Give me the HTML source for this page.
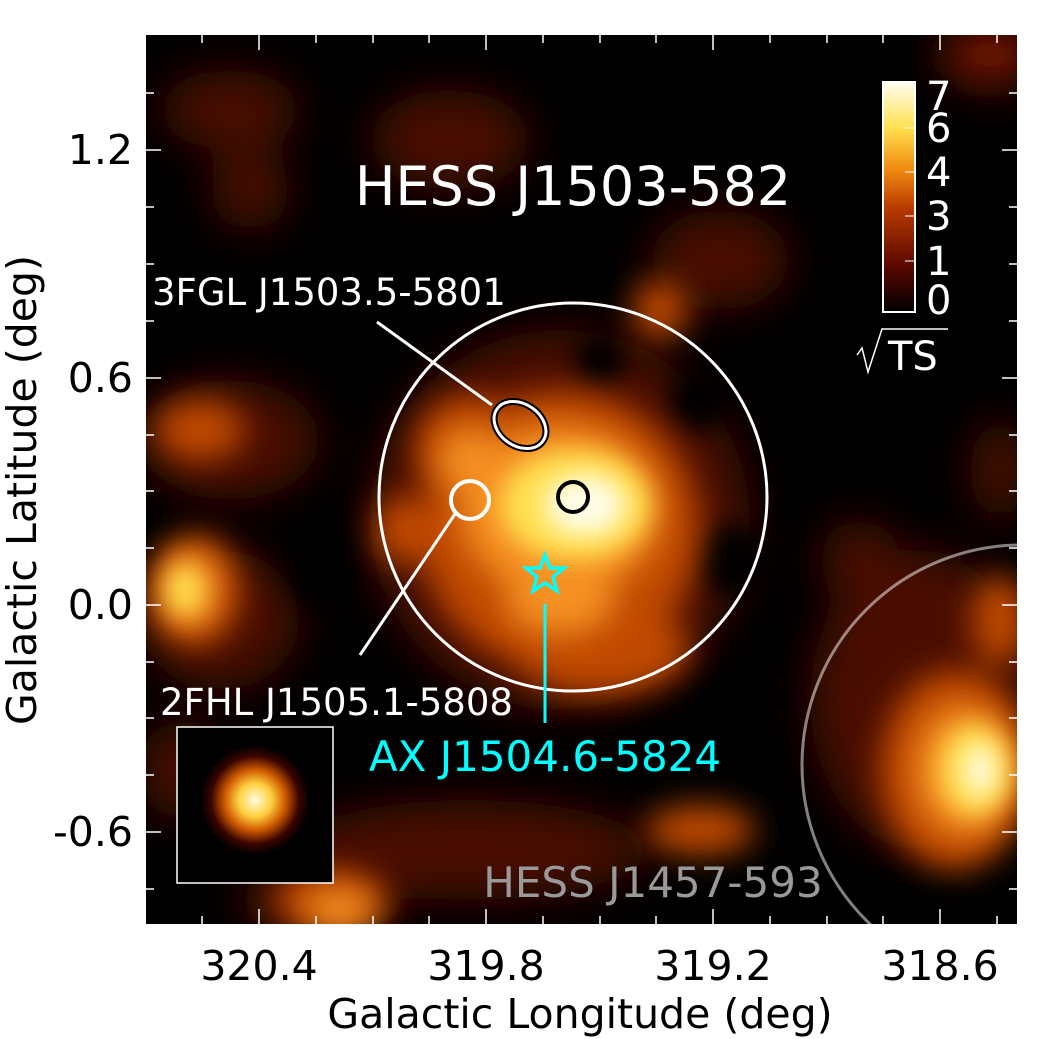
<!DOCTYPE html>
<html><head><style>
html,body{margin:0;padding:0;background:#fff;}
svg{display:block;font-family:"DejaVu Sans","Liberation Sans",sans-serif;}
</style></head><body>
<svg width="1039" height="1039" viewBox="0 0 1039 1039" xmlns="http://www.w3.org/2000/svg">
<defs>
<clipPath id="pc"><rect x="146" y="35" width="871" height="889"/></clipPath>
<filter id="b1" x="-50%" y="-50%" width="200%" height="200%"><feGaussianBlur stdDeviation="22"/></filter>
<filter id="b2" x="-50%" y="-50%" width="200%" height="200%"><feGaussianBlur stdDeviation="16"/></filter>
<filter id="b3" x="-50%" y="-50%" width="200%" height="200%"><feGaussianBlur stdDeviation="12"/></filter>
<linearGradient id="cb" x1="0" y1="1" x2="0" y2="0">
<stop offset="0" stop-color="#000"/><stop offset="0.2" stop-color="#5a0800"/><stop offset="0.45" stop-color="#b83a00"/><stop offset="0.62" stop-color="#f08a10"/><stop offset="0.8" stop-color="#ffe050"/><stop offset="1" stop-color="#fffff0"/>
</linearGradient>
<radialGradient id="psf"><stop offset="0" stop-color="#fffde0"/><stop offset="0.3" stop-color="#ffd040"/><stop offset="0.55" stop-color="#d05a00"/><stop offset="0.8" stop-color="#3a0500"/><stop offset="1" stop-color="#000"/></radialGradient>
</defs>
<g clip-path="url(#pc)">
<rect x="146" y="35" width="871" height="889" fill="#000"/>
<g filter="url(#b1)" fill="#4a0700">
<ellipse cx="230" cy="110" rx="70" ry="40"/>
<ellipse cx="250" cy="190" rx="40" ry="40"/>
<ellipse cx="450" cy="140" rx="80" ry="50"/>
<ellipse cx="990" cy="55" rx="50" ry="30" fill="#7a1500"/>
<ellipse cx="560" cy="520" rx="190" ry="190"/>
<ellipse cx="230" cy="440" rx="90" ry="60"/>
<ellipse cx="220" cy="620" rx="80" ry="70"/>
<ellipse cx="920" cy="700" rx="110" ry="150"/>
<ellipse cx="470" cy="850" rx="180" ry="50"/>
<ellipse cx="320" cy="900" rx="80" ry="40"/>
<ellipse cx="720" cy="260" rx="70" ry="50"/>
<ellipse cx="860" cy="560" rx="40" ry="40"/>
<ellipse cx="180" cy="770" rx="40" ry="50"/>
<ellipse cx="1000" cy="470" rx="30" ry="50"/>
</g>
<g filter="url(#b3)" fill="#000">
<ellipse cx="330" cy="300" rx="60" ry="50"/>
<ellipse cx="320" cy="560" rx="30" ry="50"/>
<ellipse cx="730" cy="560" rx="35" ry="35"/>
<ellipse cx="600" cy="360" rx="25" ry="25"/>
<ellipse cx="700" cy="400" rx="30" ry="30"/>
</g>
<g filter="url(#b2)" fill="#c04800">
<ellipse cx="560" cy="530" rx="140" ry="140"/>
<ellipse cx="470" cy="450" rx="55" ry="55"/>
<ellipse cx="600" cy="650" rx="90" ry="45"/>
<ellipse cx="660" cy="310" rx="28" ry="30"/>
<ellipse cx="200" cy="430" rx="45" ry="30"/>
<ellipse cx="195" cy="590" rx="45" ry="55"/>
<ellipse cx="955" cy="770" rx="75" ry="100"/>
<ellipse cx="1000" cy="620" rx="28" ry="45"/>
<ellipse cx="330" cy="900" rx="55" ry="30"/>
<ellipse cx="700" cy="830" rx="55" ry="25"/>
<ellipse cx="400" cy="530" rx="25" ry="35"/>
</g>
<g filter="url(#b2)" fill="#f59020">
<ellipse cx="560" cy="510" rx="100" ry="85"/>
<ellipse cx="470" cy="460" rx="32" ry="32"/>
<ellipse cx="190" cy="590" rx="28" ry="38"/>
<ellipse cx="965" cy="770" rx="50" ry="65"/>
<ellipse cx="340" cy="910" rx="35" ry="20"/>
<ellipse cx="560" cy="600" rx="55" ry="35"/>
</g>
<g filter="url(#b3)" fill="#ffe050">
<ellipse cx="575" cy="505" rx="75" ry="55"/>
<ellipse cx="185" cy="590" rx="18" ry="25"/>
<ellipse cx="975" cy="770" rx="35" ry="45"/>
</g>
<g filter="url(#b3)" fill="#fffde8">
<ellipse cx="585" cy="505" rx="40" ry="30"/>
<ellipse cx="980" cy="770" rx="15" ry="25"/>
</g>
<circle cx="1022" cy="765" r="220" fill="none" stroke="#fff" stroke-opacity="0.5" stroke-width="3"/>
</g>
<rect x="177" y="727" width="156" height="156" fill="#000" stroke="#fff" stroke-width="1.5"/>
<circle cx="255" cy="800" r="55" fill="url(#psf)"/>
<g stroke="#fff" stroke-width="1.5">
<path d="M146 93h8M146 150h15M146 207h8M146 264h8M146 321h8M146 378h15M146 435h8M146 491h8M146 548h8M146 605h15M146 662h8M146 718h8M146 775h8M146 832h15M146 889h8"/>
<path d="M1017 93h-8M1017 150h-15M1017 207h-8M1017 264h-8M1017 321h-8M1017 378h-15M1017 435h-8M1017 491h-8M1017 548h-8M1017 605h-15M1017 662h-8M1017 718h-8M1017 775h-8M1017 832h-15M1017 889h-8"/>
<path d="M202 35v8M259 35v15M316 35v8M373 35v8M429 35v8M486 35v15M543 35v8M600 35v8M656 35v8M713 35v15M770 35v8M827 35v8M883 35v8M940 35v15M997 35v8"/>
<path d="M202 924v-8M259 924v-15M316 924v-8M373 924v-8M429 924v-8M486 924v-15M543 924v-8M600 924v-8M656 924v-8M713 924v-15M770 924v-8M827 924v-8M883 924v-8M940 924v-15M997 924v-8"/>
</g>
<circle cx="573" cy="497" r="194" fill="none" stroke="#fff" stroke-width="3"/>
<line x1="377" y1="322" x2="492" y2="405" stroke="#fff" stroke-width="3"/>
<ellipse cx="520" cy="425" rx="28" ry="21" transform="rotate(35 520 425)" fill="none" stroke="#000" stroke-width="7"/>
<ellipse cx="520" cy="425" rx="28" ry="21" transform="rotate(35 520 425)" fill="none" stroke="#fff" stroke-width="3"/>
<circle cx="470" cy="500" r="19" fill="none" stroke="#fff" stroke-width="4"/>
<line x1="455" y1="514" x2="360" y2="655" stroke="#fff" stroke-width="3"/>
<circle cx="573" cy="497" r="15" fill="none" stroke="#000" stroke-width="4"/>
<polygon points="545,555 550,568 564,568 553,577 557,591 545,583 533,591 537,577 526,568 540,568" fill="none" stroke="#00ffff" stroke-width="3.5"/>
<line x1="545" y1="604" x2="545" y2="723" stroke="#00ffff" stroke-width="3"/>
<rect x="883" y="82" width="32" height="230" fill="url(#cb)" stroke="#fff" stroke-width="2"/>
<g stroke="#fff" stroke-width="1"><path d="M905 172h10M905 216h10M905 261h10M905 128h10"/></g>
<g fill="#fff" font-size="40">
<text x="926" y="110">7</text><text x="926" y="142">6</text><text x="926" y="186">4</text><text x="926" y="230">3</text><text x="926" y="275">1</text><text x="926" y="314">0</text>
<text x="888" y="370">TS</text>
</g>
<path d="M857 355 L862 348 L868 372 L882 329 H948" fill="none" stroke="#fff" stroke-width="1.5"/>
<g fill="#fff">
<text x="573" y="205" font-size="54" text-anchor="middle">HESS J1503-582</text>
<text x="152" y="305" font-size="37">3FGL J1503.5-5801</text>
<text x="160" y="715" font-size="37">2FHL J1505.1-5808</text>
</g>
<text x="545" y="771" font-size="42" fill="#00ffff" text-anchor="middle">AX J1504.6-5824</text>
<text x="653" y="897" font-size="42" fill="#999" text-anchor="middle">HESS J1457-593</text>
<g fill="#000" font-size="41">
<text x="259" y="980" text-anchor="middle">320.4</text>
<text x="486" y="980" text-anchor="middle">319.8</text>
<text x="713" y="980" text-anchor="middle">319.2</text>
<text x="940" y="980" text-anchor="middle">318.6</text>
<text x="133" y="164" text-anchor="end">1.2</text>
<text x="133" y="392" text-anchor="end">0.6</text>
<text x="133" y="619" text-anchor="end">0.0</text>
<text x="133" y="846" text-anchor="end">-0.6</text>
<text x="580" y="1028" text-anchor="middle">Galactic Longitude (deg)</text>
<text transform="translate(36 490) rotate(-90)" text-anchor="middle">Galactic Latitude (deg)</text>
</g>
</svg>
</body></html>
